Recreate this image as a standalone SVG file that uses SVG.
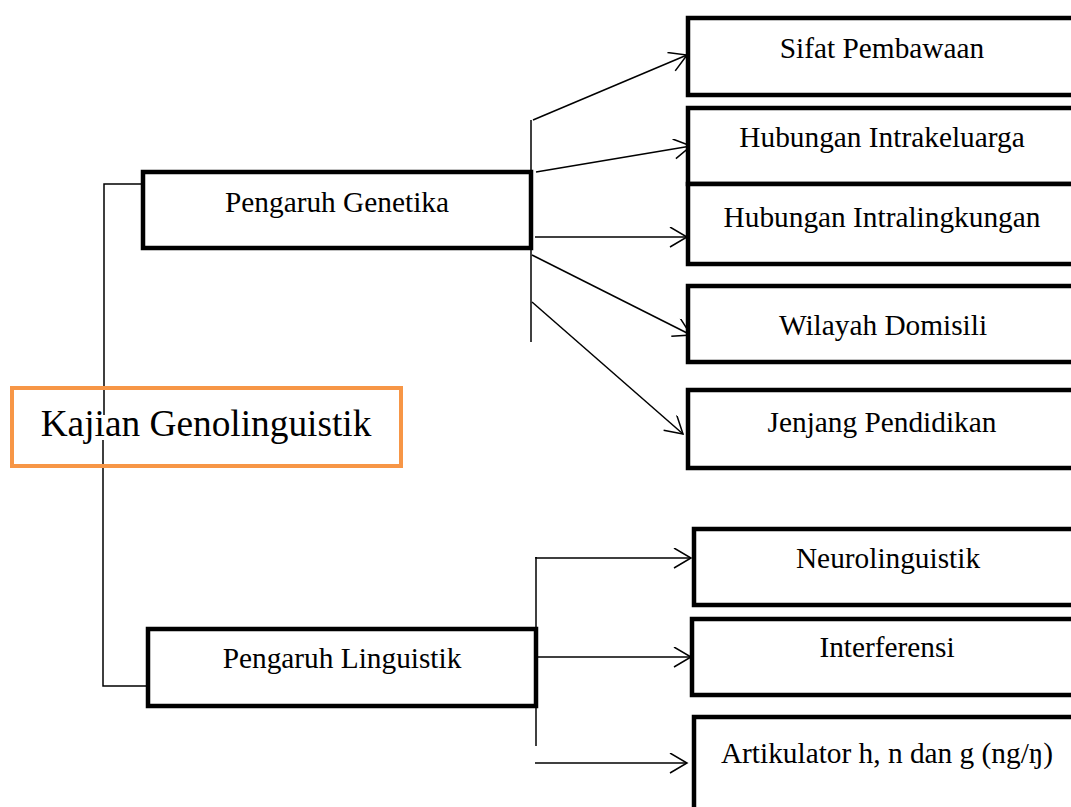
<svg xmlns="http://www.w3.org/2000/svg" width="1071" height="807" viewBox="0 0 1071 807">
<defs>
<style>
.box{fill:#fff;stroke:#000;stroke-width:4.5;stroke-linejoin:miter}
.main{fill:#fff;stroke:#F79646;stroke-width:4}
.t{font-family:"Liberation Serif","Times New Roman",serif;font-size:29.33px;fill:#000;text-anchor:middle}
.tm{font-family:"Liberation Serif","Times New Roman",serif;font-size:37.33px;fill:#000;text-anchor:middle}
.ln{fill:none;stroke:#000;stroke-width:1.5}
.ar{fill:none;stroke:#000;stroke-width:1.5;marker-end:url(#arr)}
</style>
<marker id="arr" markerUnits="userSpaceOnUse" markerWidth="24" markerHeight="24" refX="20" refY="10" orient="auto" viewBox="0 0 24 24">
<path d="M3,0 L20,10 L3,20" fill="none" stroke="#000" stroke-width="1.5"/>
</marker>
</defs>
<g id="connectors">
<polyline class="ln" points="141,184 104,184 104,415"/>
<polyline class="ln" points="103,440 103,686 146,686"/>
<line class="ln" x1="531" y1="120" x2="531" y2="342"/>
<line class="ln" x1="536" y1="557" x2="536" y2="746"/>
<line class="ar" x1="533" y1="120" x2="687" y2="55"/>
<line class="ar" x1="536" y1="172" x2="691" y2="146"/>
<line class="ar" x1="535" y1="237" x2="687" y2="237"/>
<line class="ar" x1="532" y1="255" x2="691" y2="335"/>
<line class="ar" x1="532" y1="302" x2="683" y2="434"/>
<polyline class="ar" points="536,557 536,558 691,558"/>
<line class="ar" x1="538" y1="657" x2="691" y2="657"/>
<line class="ar" x1="535" y1="763" x2="687" y2="763"/>
</g>
<g id="kajian">
<rect class="main" x="12" y="388" width="389" height="78" fill="none" style="fill:none"/>
<text class="tm" x="206" y="436">Kajian Genolinguistik</text>
</g>
<g id="pengaruh-genetika">
<rect class="box" x="143" y="172" width="388" height="76"/>
<text class="t" x="337" y="212">Pengaruh Genetika</text>
</g>
<g id="pengaruh-linguistik">
<rect class="box" x="148" y="629" width="388" height="77"/>
<text class="t" x="342" y="668">Pengaruh Linguistik</text>
</g>
<g id="sifat">
<rect class="box" x="688" y="18" width="388" height="77"/>
<text class="t" x="882" y="58">Sifat Pembawaan</text>
</g>
<g id="intrakeluarga">
<rect class="box" x="688" y="108" width="388" height="76"/>
<text class="t" x="882" y="147">Hubungan Intrakeluarga</text>
</g>
<g id="intralingkungan">
<rect class="box" x="688" y="184" width="388" height="80"/>
<text class="t" x="882" y="227">Hubungan Intralingkungan</text>
</g>
<g id="wilayah">
<rect class="box" x="688" y="286" width="388" height="76"/>
<text class="t" x="883" y="335">Wilayah Domisili</text>
</g>
<g id="jenjang">
<rect class="box" x="688" y="390" width="388" height="78"/>
<text class="t" x="882" y="432">Jenjang Pendidikan</text>
</g>
<g id="neurolinguistik">
<rect class="box" x="694" y="529" width="386" height="76"/>
<text class="t" x="888" y="568">Neurolinguistik</text>
</g>
<g id="interferensi">
<rect class="box" x="692" y="619" width="388" height="76"/>
<text class="t" x="887" y="657">Interferensi</text>
</g>
<g id="artikulator">
<rect class="box" x="694" y="717" width="386" height="100"/>
<text class="t" x="887" y="763">Artikulator h, n dan g (ng/ŋ)</text>
</g>
</svg>
